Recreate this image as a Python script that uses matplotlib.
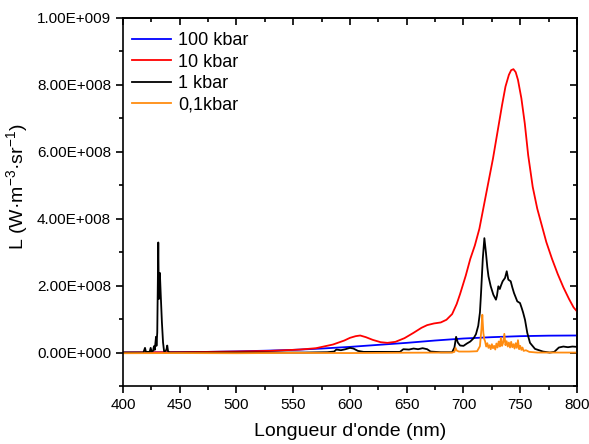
import numpy as np
import matplotlib.pyplot as plt
from matplotlib.ticker import MultipleLocator, FuncFormatter

plt.rcParams['font.family'] = ['Liberation Sans', 'DejaVu Sans']
plt.rcParams['mathtext.fontset'] = 'custom'
plt.rcParams['mathtext.rm'] = 'Liberation Sans'
plt.rcParams['mathtext.it'] = 'Liberation Sans'

# valeurs en unites de 1e8 W.m-3.sr-1
wl_100 = [400, 425, 450, 475, 500, 525, 550, 575, 600, 625, 650, 675, 700, 725, 750, 775, 800]
L_100 = [0, 0.005, 0.01, 0.02, 0.035, 0.055, 0.08, 0.12, 0.17, 0.23, 0.29, 0.36, 0.42, 0.46, 0.49, 0.505, 0.51]

wl_10 = [400, 450, 500, 530, 556, 570, 585, 595, 600, 605, 609, 614, 620, 627, 633, 640, 648, 656,
         663, 668, 674, 680, 685, 690, 694, 697, 702, 706, 710, 714, 718, 722, 726, 730, 734, 737,
         740, 742, 744, 746, 748, 751, 754, 757, 761, 765, 769, 773, 778, 783, 788, 793, 797, 800]
L_10 = [0.0, 0.01, 0.03, 0.05, 0.09, 0.13, 0.24, 0.36, 0.44, 0.49, 0.51, 0.46, 0.38, 0.31, 0.29, 0.32, 0.43, 0.59,
        0.74, 0.82, 0.87, 0.9, 0.98, 1.15, 1.45, 1.75, 2.3, 2.8, 3.2, 3.7, 4.4, 5.1, 5.8, 6.6, 7.4, 7.95,
        8.3, 8.44, 8.47, 8.38, 8.15, 7.6, 6.85, 5.9, 4.95, 4.3, 3.8, 3.3, 2.8, 2.35, 1.95, 1.6, 1.35, 1.23]

wl_1 = [400, 418, 419.4, 420.2, 423.5, 424.4, 425.2, 426.5, 427.3, 428, 429.1, 429.5, 430.2, 431.1, 431.6,
        432.5, 433.3, 434.3, 435.3, 436.2, 437.5, 438.3, 439, 439.7, 441, 500, 560, 580, 586, 588, 592,
        596, 600, 603, 607, 612, 630, 644, 647, 652, 656, 660, 664, 668, 671, 680, 690, 692, 693.5, 695,
        697, 700, 703, 706, 709, 711, 713, 714.5, 715.5, 717, 718.4, 719.8, 721, 722, 724, 726.3, 728.6,
        729.5, 730.7, 732, 733, 734.5, 736.6, 738.1, 739.5, 741.6, 743, 744.5, 747.4, 749.8, 751.3, 752.5,
        754.2, 756.2, 758.6, 763, 770, 776, 780, 784, 788, 792, 796, 800]
L_1 = [0, 0, 0.14, 0.02, 0.02, 0.14, 0.03, 0.05, 0.19, 0.08, 0.47, 0.2, 0.6, 3.29, 1.6,
       2.38, 1.7, 0.9, 0.3, 0.04, 0.05, 0.09, 0.21, 0.04, 0.0, 0.0, 0.0, 0.01, 0.03, 0.09, 0.07,
       0.1, 0.14, 0.12, 0.05, 0.02, 0.02, 0.02, 0.1, 0.09, 0.12, 0.1, 0.13, 0.1, 0.03, 0.01, 0.01, 0.15, 0.47, 0.3,
       0.21, 0.2, 0.27, 0.33, 0.43, 0.55, 0.8, 1.2, 1.8, 2.8, 3.42, 2.98, 2.55, 2.28, 1.98, 1.73, 1.58,
       1.7, 1.98, 1.9, 2.0, 2.13, 2.23, 2.43, 2.18, 2.13, 1.95, 1.78, 1.53, 1.48, 1.33, 1.2,
       0.98, 0.59, 0.29, 0.11, 0.03, 0.0, 0.02, 0.15, 0.18, 0.16, 0.18, 0.17]

wl_01 = [400, 450, 500, 550, 600, 650, 690, 692, 693, 694, 696, 705, 712, 714.5, 715.8, 716.6, 717.5,
         718.3, 719, 720, 721, 722, 723, 724, 725, 726, 727, 728, 729, 730, 731, 732, 733, 734, 735,
         736, 737, 738, 739, 740, 741, 742, 743, 744, 745, 746, 747, 748, 749, 750, 751, 752, 753,
         755, 758, 765, 800]
L_01 = [-0.02, -0.015, -0.02, -0.01, -0.015, -0.005, 0.0, 0.02, 0.14, 0.06, 0.03, 0.03, 0.04, 0.19, 0.7, 1.13, 0.59,
        0.4, 0.34, 0.18, 0.28, 0.14, 0.22, 0.1, 0.25, 0.13, 0.2, 0.09, 0.27, 0.15, 0.33, 0.18, 0.44, 0.2, 0.3,
        0.56, 0.22, 0.34, 0.18, 0.3, 0.15, 0.32, 0.16, 0.25, 0.12, 0.28, 0.14, 0.37, 0.1, 0.2, 0.08, 0.15, 0.05,
        0.07, 0.02, 0.0, 0.0]

series = [
    (wl_100, L_100, '#0000ff', '100 kbar'),
    (wl_10, L_10, '#ff0000', '10 kbar'),
    (wl_1, L_1, '#000000', '1 kbar'),
    (wl_01, L_01, '#ff8c10', '0,1kbar'),
]

fig = plt.figure(figsize=(5.89, 4.44), dpi=100)
ax = fig.add_axes([0.2088, 0.1306, 0.7708, 0.8289])

for x, y, c, lab in series:
    ax.plot(x, np.array(y) * 1e8, color=c, lw=1.3, label=lab)

ax.set_xlim(400, 800)
ax.set_ylim(-1e8, 1e9)
ax.xaxis.set_major_locator(MultipleLocator(50))
ax.xaxis.set_minor_locator(MultipleLocator(25))
ax.yaxis.set_major_locator(MultipleLocator(2e8))
ax.yaxis.set_minor_locator(MultipleLocator(1e8))


def sci(v, pos):
    m, e = f"{v:.2e}".split('e')
    return f"{m.upper()}E{int(e):+04d}"


ax.yaxis.set_major_formatter(FuncFormatter(sci))
ax.tick_params(which='both', direction='out', labelsize=11, width=1.2)
ax.tick_params(which='major', length=5)
ax.tick_params(which='minor', length=3)

# ticks vers l'interieur en haut et a droite
top = ax.secondary_xaxis('top')
top.xaxis.set_major_locator(MultipleLocator(50))
top.xaxis.set_minor_locator(MultipleLocator(25))
top.tick_params(which='both', direction='in', labeltop=False, width=1.2)
top.tick_params(which='major', length=5)
top.tick_params(which='minor', length=3)
right = ax.secondary_yaxis('right')
right.yaxis.set_major_locator(MultipleLocator(2e8))
right.yaxis.set_minor_locator(MultipleLocator(1e8))
right.tick_params(which='both', direction='in', labelright=False, width=1.2)
right.tick_params(which='major', length=5)
right.tick_params(which='minor', length=3)

for s in ax.spines.values():
    s.set_linewidth(1.2)
for s in list(top.spines.values()) + list(right.spines.values()):
    s.set_linewidth(1.2)

ax.set_xlabel("Longueur d'onde (nm)", fontsize=14, labelpad=8)
ax.set_ylabel("L (W·m$^{-3}$·sr$^{-1}$)", fontsize=14)
ax.yaxis.set_label_coords(-0.205, 0.54)

ax.legend(loc='upper left', bbox_to_anchor=(0.0, 0.985), frameon=False, fontsize=13,
          handlelength=2.2, labelspacing=0.25, handletextpad=0.37,
          borderaxespad=0.1, borderpad=0.38)

fig.savefig('out.png', dpi=100)
